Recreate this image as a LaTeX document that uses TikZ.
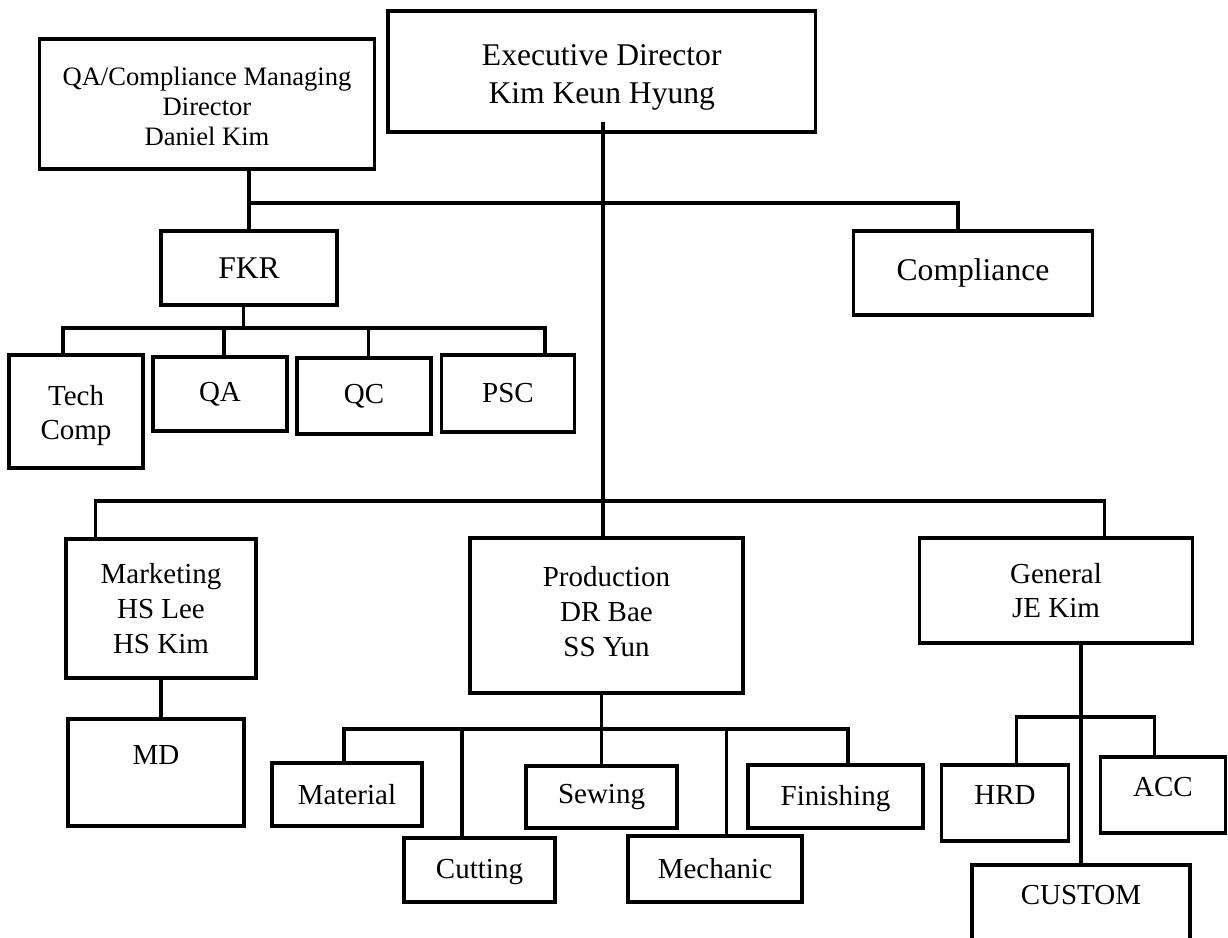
\documentclass[tikz,border=0pt]{standalone}
\usepackage{fontspec}
\setmainfont{Liberation Serif}
\definecolor{orgInk}{HTML}{000000}
\newcommand\orglift[1]{\rule[-#1]{0pt}{#1}}
\newcommand\orgdrop[1]{\rule{0pt}{#1}}
\tikzset{
  org box/.style={draw=orgInk, line width=1.7pt, align=center, inner sep=0pt, font=\fontsize{14.5}{17.3}\selectfont},
  org big/.style={font=\fontsize{15.8}{19}\selectfont},
  org small/.style={font=\fontsize{13.3}{15}\selectfont},
  org size/.style 2 args={minimum width=#1, minimum height=#2},
  org link/.style={draw=orgInk, line width=1.7pt, line cap=rect},
}

\begin{document}
\begin{tikzpicture}[x=0.5pt,y=-0.5pt]
  \path[use as bounding box, clip] (0,0) rectangle (1228,938);
  % top level
  \node[org box, org big, org size={213.75pt}{60.5pt}] (exec) at (601.75,71.5) {\orgdrop{16pt}Executive Director\\Kim Keun Hyung};
  \node[org box, org small, org size={167.5pt}{65pt}] (qacd) at (207,104) {\orgdrop{11.5pt}QA/Compliance Managing\\Director\\Daniel Kim};
  \node[org box, org big, org size={88pt}{37pt}] (fkr) at (249,268) {FKR};
  \node[org box, org big, org size={119.5pt}{42pt}] (comp) at (973,273) {Compliance};
  \node[org box, org size={67pt}{56.5pt}] (tech) at (76,411.5) {\orgdrop{14pt}Tech\\Comp};
  \node[org box, org size={67pt}{37pt}] (qa) at (220,394) {QA};
  \node[org box, org size={67pt}{38pt}] (qc) at (364,396) {QC};
  \node[org box, org size={66.25pt}{38.5pt}] (psc) at (508,393.5) {PSC};
  % departments
  \node[org box, org size={95pt}{69.5pt}] (mkt) at (161,608.5) {Marketing\\HS Lee\\HS Kim};
  \node[org box, org size={88pt}{53.5pt}] (md) at (156,772.5) {MD\\\mbox{}};
  \node[org box, org size={136.5pt}{77.5pt}] (prod) at (606.5,615.5) {Production\\DR Bae\\SS Yun\orglift{4pt}};
  \node[org box, org size={136.5pt}{52.5pt}] (gen) at (1056,590.5) {General\\JE Kim};
  \node[org box, org size={75pt}{31.5pt}] (mat) at (347,794.5) {Material};
  \node[org box, org size={75.5pt}{32pt}] (cut) at (479.5,870) {\orgdrop{12pt}Cutting};
  \node[org box, org size={75.5pt}{31pt}] (sew) at (601.5,797) {Sewing};
  \node[org box, org size={87pt}{33pt}] (mech) at (715,869) {Mechanic};
  \node[org box, org size={87.5pt}{31.5pt}] (fin) at (835.5,796.5) {\orgdrop{12pt}Finishing};
  \node[org box, org size={63.25pt}{38pt}] (hrd) at (1005,803) {HRD\orglift{8pt}};
  \node[org box, org size={62.5pt}{38pt}] (acc) at (1163,795) {ACC\orglift{8pt}};
  \node[org box, org size={109pt}{47pt}] (cust) at (1081,912) {CUSTOM\\\mbox{}};

  % bus levels
  \coordinate (topbus) at (0,203);
  \coordinate (fkrbus) at (0,328);
  \coordinate (midbus) at (0,501);
  \coordinate (genbus) at (0,717);
  \coordinate (prodbus) at (0,729);

  % drop points
  \coordinate (comp top) at ([xshift=-7.5pt]comp.north);
  \coordinate (fkr foot) at ([xshift=-2.7pt]fkr.south);
  \coordinate (tech top) at ([xshift=-6.5pt]tech.north);
  \coordinate (qa top) at ([xshift=2pt]qa.north);
  \coordinate (qc top) at ([xshift=2.25pt]qc.north);
  \coordinate (psc top) at ([xshift=18.5pt]psc.north);
  \coordinate (mkt top) at ([xshift=-32.65pt]mkt.north);
  \coordinate (gen top) at ([xshift=24.3pt]gen.north);
  \coordinate (mat top) at ([xshift=-1.5pt]mat.north);
  \coordinate (cut top) at ([xshift=-8.75pt]cut.north);
  \coordinate (sew top) at (sew.north);
  \coordinate (mech top) at ([xshift=5.75pt]mech.north);
  \coordinate (fin top) at ([xshift=6.25pt]fin.north);
  \coordinate (hrd top) at ([xshift=5.75pt]hrd.north);
  \coordinate (acc top) at ([xshift=-4.15pt]acc.north);

  \draw[org link] ([xshift=0.6pt,yshift=5pt]exec.south) -- ([xshift=0.6pt]exec.south |- prod.north);
  \draw[org link] (qacd.south -| fkr.north) -- (fkr.north);
  \draw[org link] (fkr.north |- topbus) -- (comp top |- topbus) -- (comp top);

  % FKR groups
  \draw[org link] (fkr foot) -- (fkr foot |- fkrbus);
  \foreach \n in {tech,qa,qc,psc}
    \draw[org link] (\n\space top) -- (\n\space top |- fkrbus);
  \draw[org link] (tech top |- fkrbus) -- (psc top |- fkrbus);

  % departments bus
  \foreach \n in {mkt,gen}
    \draw[org link] (\n\space top) -- (\n\space top |- midbus);
  \draw[org link] (mkt top |- midbus) -- (gen top |- midbus);
  \draw[org link] (mkt.south) -- (mkt.south |- md.north);

  % production
  \draw[org link] (exec.south |- prod.south) -- (exec.south |- prodbus);
  \foreach \n in {mat,cut,sew,mech,fin}
    \draw[org link] (\n\space top) -- (\n\space top |- prodbus);
  \draw[org link] (mat top |- prodbus) -- (fin top |- prodbus);

  % general
  \draw[org link] (cust.north |- gen.south) -- (cust.north);
  \foreach \n in {hrd,acc}
    \draw[org link] (\n\space top) -- (\n\space top |- genbus);
  \draw[org link] (hrd top |- genbus) -- (acc top |- genbus);
\end{tikzpicture}
\end{document}
